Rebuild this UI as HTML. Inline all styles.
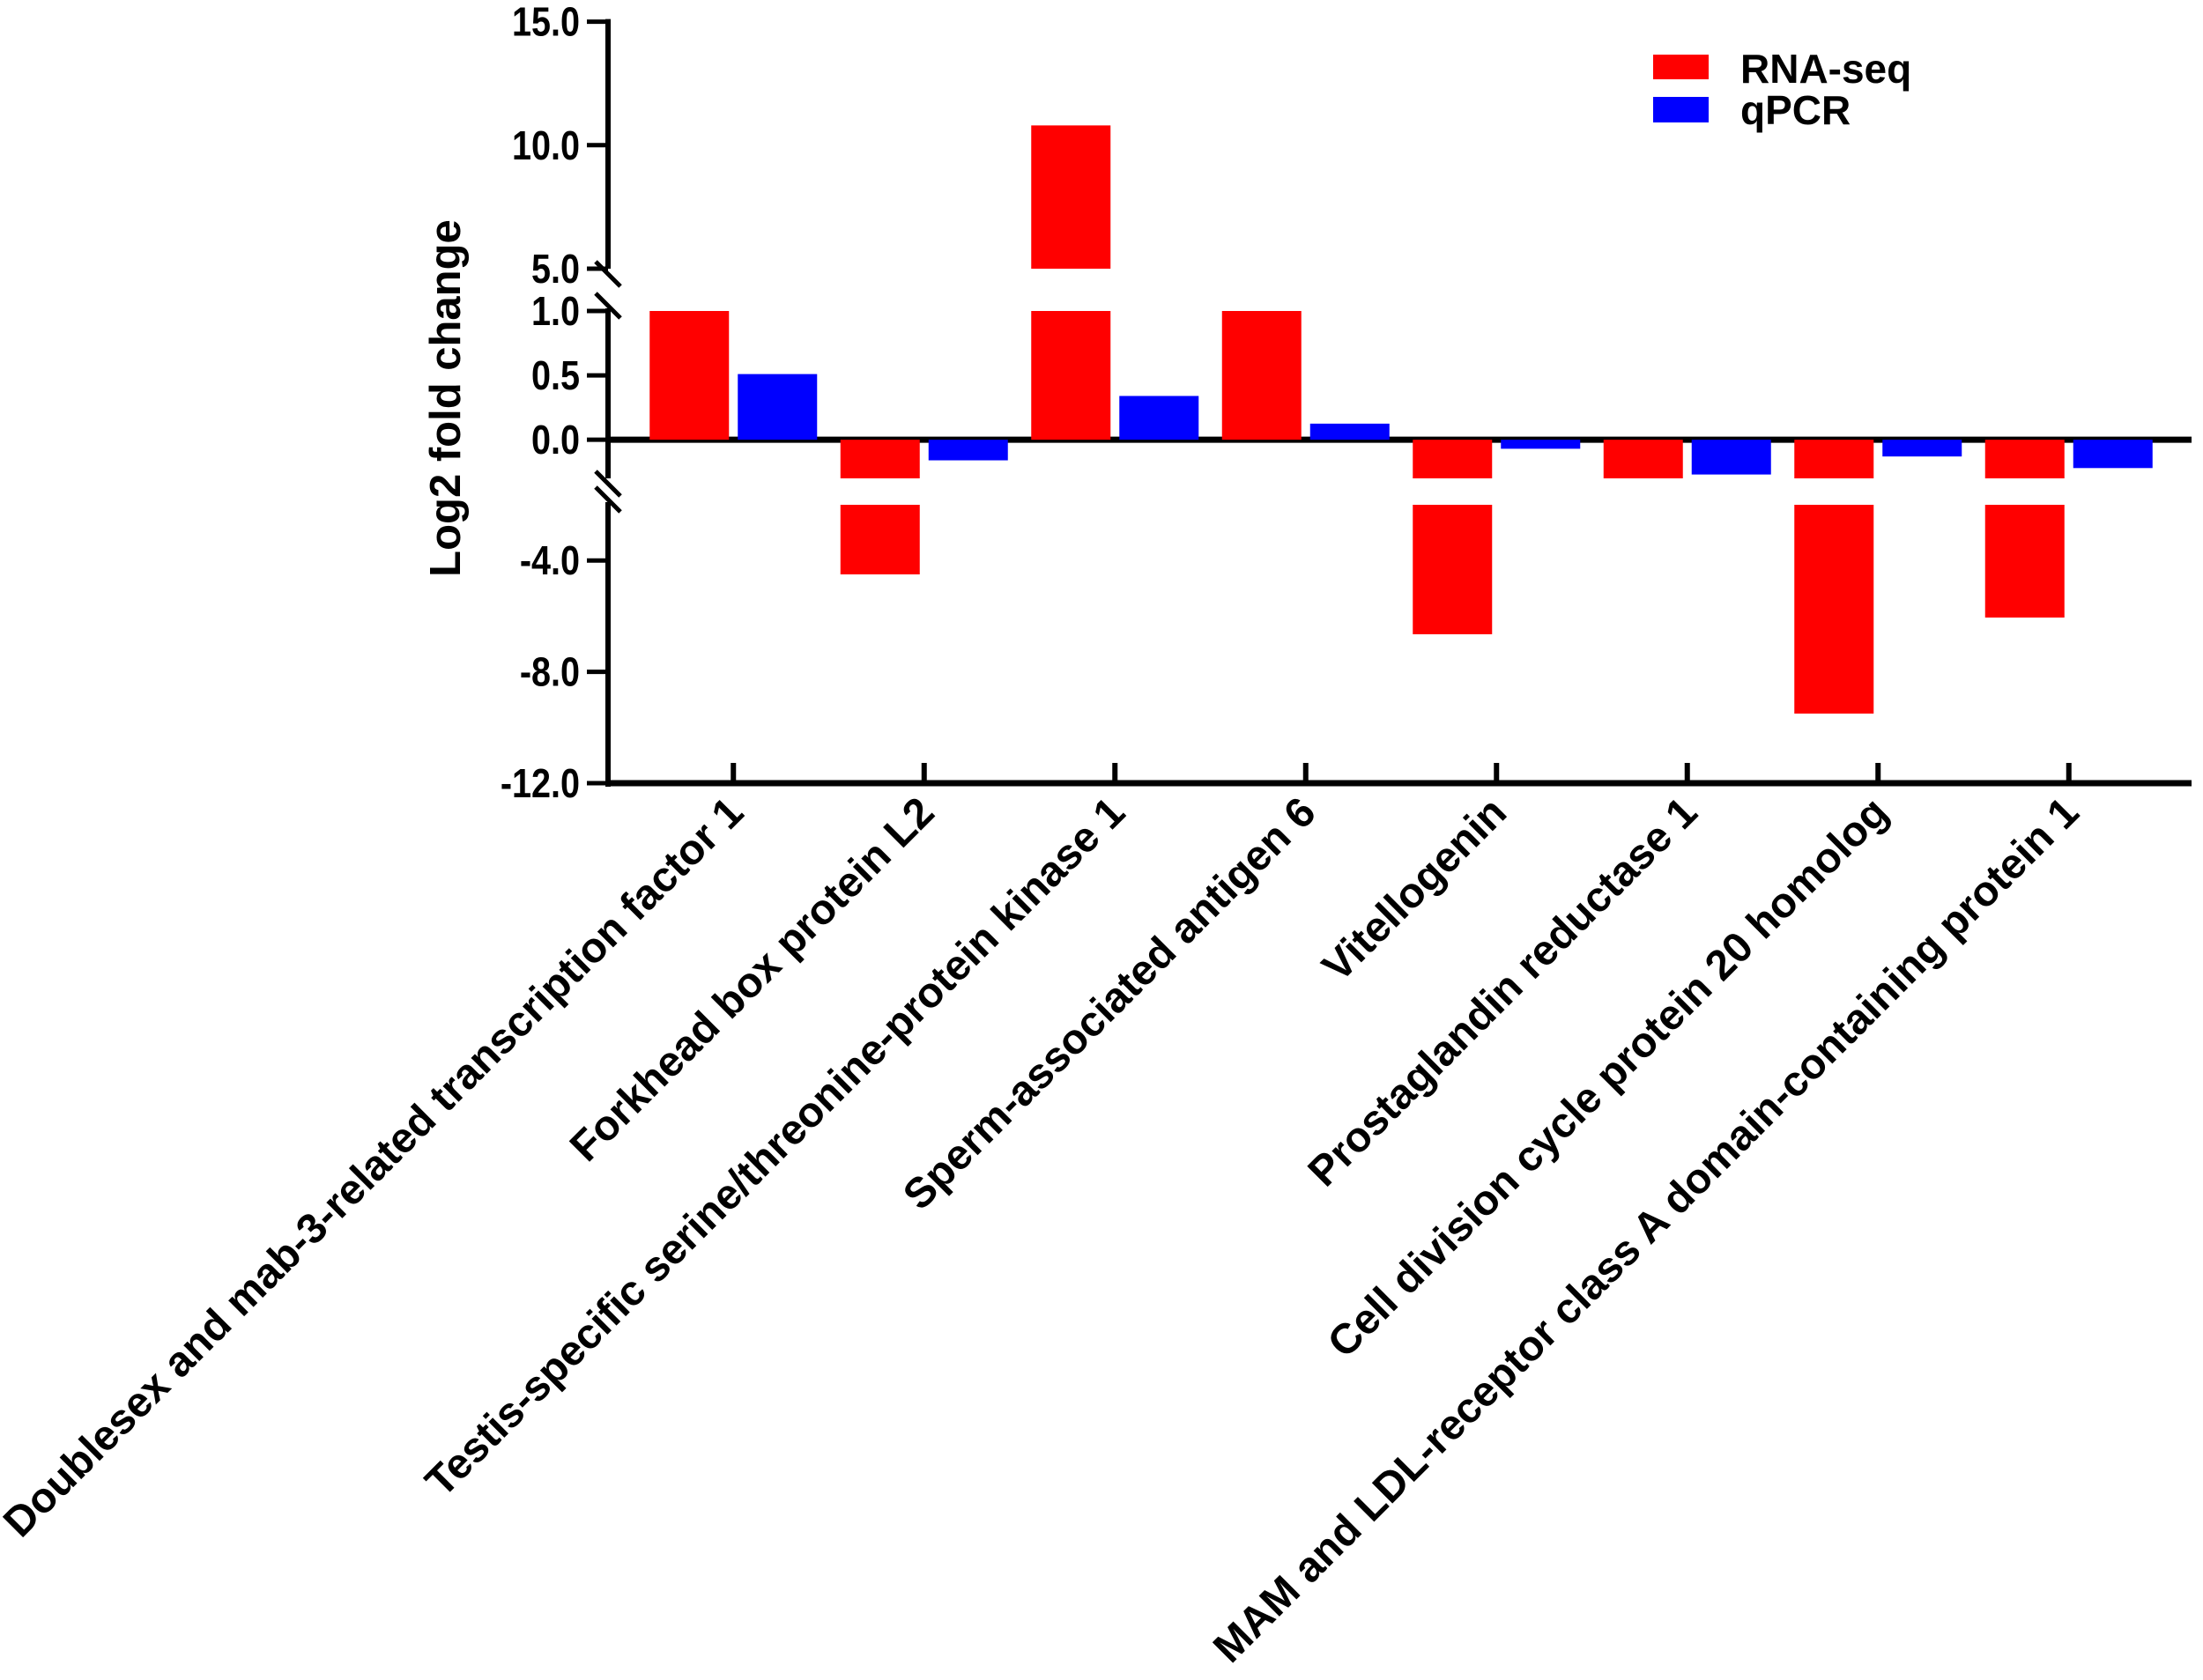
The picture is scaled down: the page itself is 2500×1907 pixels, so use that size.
<!DOCTYPE html>
<html><head><meta charset="utf-8"><style>
html,body{margin:0;padding:0;background:#fff}
svg{display:block}
text{font-family:"Liberation Sans",Arial,sans-serif;font-weight:bold;fill:#000}
</style></head>
<body>
<svg id="chart" width="2500" height="1907" viewBox="0 0 2500 1907" xmlns="http://www.w3.org/2000/svg">
<g id="axes"></g>
<g id="bars"></g>
<g id="labels"></g>
<text x="0" y="0" font-size="49" text-anchor="middle" transform="translate(522,452) rotate(-90)">Log2 fold change</text>
<g>
<rect x="1876" y="62" width="63" height="28" fill="#ff0000"/>
<text x="1975" y="94" font-size="46">RNA-seq</text>
<rect x="1876" y="110" width="63" height="29" fill="#0000ff"/>
<text x="1975" y="141" font-size="46">qPCR</text>
</g>
</svg>
<script>
const categories = ["Doublesex and mab-3-related transcription factor 1","Forkhead box protein L2","Testis-specific serine/threonine-protein kinase 1","Sperm-associated antigen 6","Vitellogenin","Prostaglandin reductase 1","Cell division cycle protein 20 homolog","MAM and LDL-receptor class A domain-containing protein 1"];
const rnaSeq = [1.0, -4.5, 10.8, 1.0, -6.65, -1.5, -9.5, -6.05];
const qpcr = [0.51, -0.16, 0.34, 0.125, -0.07, -0.27, -0.13, -0.22];
const tickTop = ["15.0","10.0","5.0"];
const tickTopVals = [15, 10, 5];
const tickMid = ["1.0","0.5","0.0"];
const tickMidVals = [1, 0.5, 0];
const tickBot = ["-4.0","-8.0","-12.0"];
const tickBotVals = [-4, -8, -12];

const NS = "http://www.w3.org/2000/svg";
const segs = [[5, 15, 305, 24.6], [-0.3, 1, 543, 353], [-12, -2, 889, 573]];
function yScale(seg, v){const s=segs[seg];return s[2]+(v-s[0])*(s[3]-s[2])/(s[1]-s[0]);}
const axisX = 690, x0 = 724, catW = 216.5, barW = 90;
function xCenter(i){return x0 + catW*(i+0.5);}
function mk(tag, attrs, parent){const e=document.createElementNS(NS,tag);for(const k in attrs)e.setAttribute(k,attrs[k]);parent.appendChild(e);return e;}
const axes=document.getElementById('axes'), bars=document.getElementById('bars'), labels=document.getElementById('labels');

[[0,15,5],[1,1,-0.3],[2,-2,-12]].forEach(function(a){
  const l=mk('line',{x1:axisX,x2:axisX,y1:yScale(a[0],a[1])-3,y2:yScale(a[0],a[2])+(a[0]===2?4:0),stroke:'#000','stroke-width':6},axes);
  
  
});
[[305,353],[543,573]].forEach(function(b){
  [b[0]+6,b[1]-6].forEach(function(y){
    const m=mk('line',{x1:axisX-14,y1:y-14,x2:axisX+14,y2:y+14,stroke:'#000','stroke-width':5},axes);
    
    
  });
});
function ticks(seg, vals, labs){
  vals.forEach(function(v,i){
    const y=yScale(seg,v);
    const t=mk('line',{x1:axisX-24,x2:axisX,y1:y,y2:y,stroke:'#000','stroke-width':5},axes);
    
    
    const tx=mk('text',{x:0,y:0,'font-size':46,'text-anchor':'end',transform:'translate('+(axisX-32)+','+(y+16)+') scale(0.86,1)'},axes);
    tx.textContent=labs[i];
    
    
  });
}
ticks(0,tickTopVals,tickTop);ticks(1,tickMidVals,tickMid);ticks(2,tickBotVals,tickBot);

function drawBar(v, xl, color, name){
  const pieces=[];
  if(v>=0){
    pieces.push([1,0,Math.min(v,1)]);
    if(v>5) pieces.push([0,5,v]);
  } else {
    pieces.push([1,Math.max(v,-0.3),0]);
    if(v<-2) pieces.push([2,v,-2]);
  }
  pieces.forEach(function(p){
    const ya=yScale(p[0],p[2]), yb=yScale(p[0],p[1]);
    const r=mk('rect',{x:xl,y:Math.min(ya,yb),width:barW,height:Math.abs(yb-ya),fill:color},bars);
    
    
  });
}
categories.forEach(function(c,i){
  const cx=xCenter(i);
  drawBar(rnaSeq[i], cx-95, '#ff0000', 'bar-rna-seq');
  drawBar(qpcr[i], cx+5, '#0000ff', 'bar-qpcr');
  const t=mk('line',{x1:cx,x2:cx,y1:866,y2:889,stroke:'#000','stroke-width':6},axes);
  
  
  const tx=mk('text',{x:0,y:0,'font-size':48,'text-anchor':'end',transform:'translate('+(cx+14)+',925) rotate(-45)'},labels);
  tx.textContent=c;
  
  
});
const z=mk('line',{x1:axisX-3,x2:2487,y1:yScale(1,0),y2:yScale(1,0),stroke:'#000','stroke-width':7},axes);


const bx=mk('line',{x1:axisX-3,x2:2487,y1:889,y2:889,stroke:'#000','stroke-width':7},axes);


</script>
</body></html>
